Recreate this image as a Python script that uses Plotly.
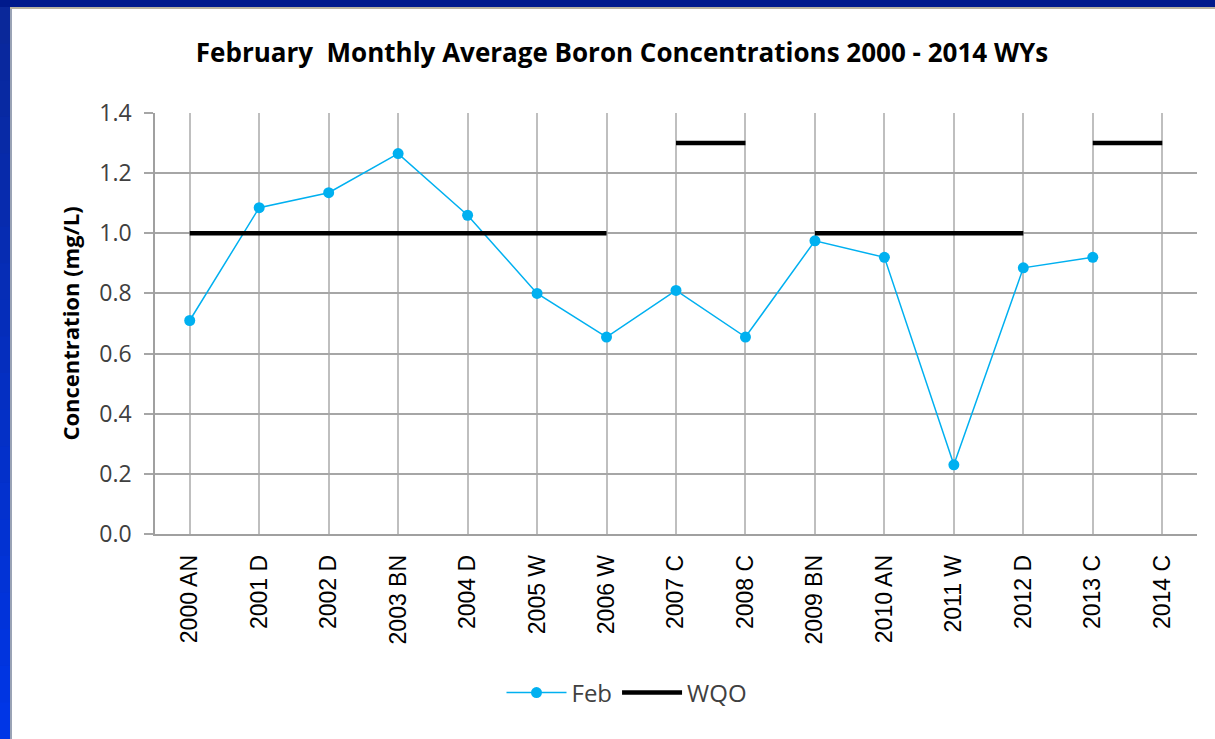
import plotly.graph_objects as go

categories = ["2000 AN", "2001 D", "2002 D", "2003 BN", "2004 D", "2005 W", "2006 W",
              "2007 C", "2008 C", "2009 BN", "2010 AN", "2011 W", "2012 D", "2013 C", "2014 C"]
feb_values = [0.71, 1.085, 1.135, 1.265, 1.06, 0.80, 0.655, 0.81, 0.655, 0.975, 0.92, 0.23, 0.885, 0.92, None]
# WQO segments: (start index, end index, value)
wqo_segments = [(0, 6, 1.0), (7, 8, 1.3), (9, 12, 1.0), (13, 14, 1.3)]
y_ticks = [0.0, 0.2, 0.4, 0.6, 0.8, 1.0, 1.2, 1.4]

W, H = 1215, 739
L, R, T, B = 155, 18, 113, 205
pw, ph = W - L - R, H - T - B

FONT = "Open Sans"
TXT = "#404040"

x_idx = list(range(len(categories)))
fx = [i for i, v in zip(x_idx, feb_values) if v is not None]
fy = [v for v in feb_values if v is not None]

wx, wy = [], []
for k, (a, b, v) in enumerate(wqo_segments):
    if k:
        wx.append(None); wy.append(None)
    for i in range(a, b + 1):
        wx.append(i); wy.append(v)

fig = go.Figure()
fig.add_trace(go.Scatter(x=fx, y=fy, name="Feb", mode="lines+markers",
                         line=dict(color="#00B0F0", width=1.5),
                         marker=dict(color="#00B0F0", size=11)))
fig.add_trace(go.Scatter(x=wx, y=wy, name="WQO", mode="lines",
                         line=dict(color="black", width=4.5), connectgaps=False))

# blue frame (top band and left band)
shapes = []
px = lambda p: (p - L) / pw
py = lambda p: (H - B - p) / ph
shapes.append(dict(type="rect", xref="paper", yref="paper", x0=px(-5), x1=px(W + 5),
                   y0=py(7), y1=py(-5), fillcolor="#001A8C", line=dict(width=0), layer="above"))
nseg = 20
for s in range(nseg):
    t = s / (nseg - 1)
    r = int(0x0A + (0x00 - 0x0A) * t)
    g = int(0x28 + (0x36 - 0x28) * t)
    bl = int(0x9A + (0xE6 - 0x9A) * t)
    y0p = 7 + (H - 7) * s / nseg
    y1p = 7 + (H - 7) * (s + 1) / nseg
    shapes.append(dict(type="rect", xref="paper", yref="paper", x0=px(-5), x1=px(10),
                       y0=py(y1p + 1), y1=py(y0p), fillcolor=f"rgb({r},{g},{bl})",
                       line=dict(width=0), layer="above"))
shapes.append(dict(type="rect", xref="paper", yref="paper", x0=px(10), x1=px(12),
                   y0=py(H + 5), y1=py(7), fillcolor="#9AA3B5", line=dict(width=0), layer="above"))
shapes.append(dict(type="rect", xref="paper", yref="paper", x0=px(10), x1=px(W + 5),
                   y0=py(9), y1=py(7), fillcolor="#B8B3A0", line=dict(width=0), layer="above"))

fig.update_layout(
    width=W, height=H,
    margin=dict(l=L, r=R, t=T, b=B, autoexpand=False),
    paper_bgcolor="white", plot_bgcolor="white",
    font=dict(family=FONT, color=TXT),
    title=dict(text="<b>February  Monthly Average Boron Concentrations 2000 - 2014 WYs</b>",
               x=(622) / W, xanchor="center", y=1 - 53 / H, yanchor="middle",
               font=dict(family=FONT, size=26, color="black")),
    showlegend=True,
    legend=dict(orientation="h", x=px(627), xanchor="center", y=py(693), yanchor="middle",
                font=dict(family=FONT, size=24, color=TXT), itemwidth=60,
                bgcolor="rgba(0,0,0,0)"),
    shapes=shapes,
)
fig.update_xaxes(range=[-0.5, len(categories) - 0.5], tickmode="array", tickvals=x_idx,
                 ticktext=categories, tickangle=-90, showgrid=True, gridcolor="#BFBFBF",
                 gridwidth=1.5, showline=True, linecolor="#A0A0A0", linewidth=1.5,
                 ticks="", ticklabelstandoff=10,
                 tickfont=dict(family="Liberation Sans", size=23, color="black"), zeroline=False)
fig.update_yaxes(range=[0, 1.4], tickmode="array", tickvals=y_ticks,
                 ticktext=[f"{v:.1f}" for v in y_ticks], showgrid=True, gridcolor="#A6A6A6",
                 gridwidth=1.5, showline=True, linecolor="#A0A0A0", linewidth=1.5,
                 ticks="outside", ticklen=9, tickcolor="#A6A6A6", tickwidth=1.5,
                 ticklabelstandoff=8,
                 tickfont=dict(family=FONT, size=23, color=TXT), zeroline=False,
                 title=dict(text="<b>Concentration (mg/L)</b>", standoff=14,
                            font=dict(family=FONT, size=22, color="black")))

fig.write_html("out.html", post_script="document.body.style.margin='0';",
               config={"displayModeBar": False})
